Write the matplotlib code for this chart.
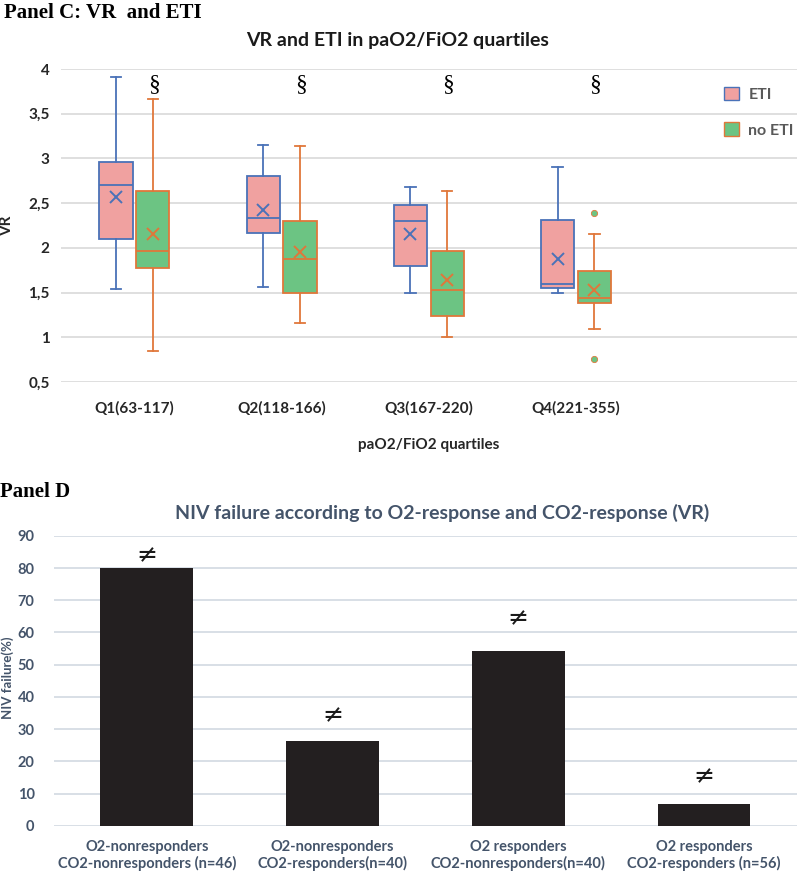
import matplotlib.pyplot as plt
from matplotlib.patches import Patch
from matplotlib.ticker import FuncFormatter

plt.rcParams['font.family'] = ['Lato', 'DejaVu Sans']

# Panel C: box plot values
quartiles = ['Q1(63-117)', 'Q2(118-166)', 'Q3(167-220)', 'Q4(221-355)']
eti_whislo = [1.54, 1.56, 1.49, 1.50]
eti_q1 = [2.10, 2.17, 1.80, 1.55]
eti_med = [2.70, 2.33, 2.30, 1.60]
eti_q3 = [2.96, 2.80, 2.48, 2.31]
eti_whishi = [3.91, 3.15, 2.68, 2.90]
eti_mean = [2.57, 2.42, 2.15, 1.87]
eti_fliers = [[], [], [], []]

noeti_whislo = [0.85, 1.16, 1.00, 1.09]
noeti_q1 = [1.78, 1.50, 1.24, 1.38]
noeti_med = [1.97, 1.88, 1.53, 1.44]
noeti_q3 = [2.64, 2.30, 1.97, 1.74]
noeti_whishi = [3.67, 3.14, 2.64, 2.15]
noeti_mean = [2.16, 1.95, 1.64, 1.53]
noeti_fliers = [[], [], [], [2.39, 0.76]]

# Panel D: bar values
groups = ['O2-nonresponders\nCO2-nonresponders (n=46)',
          'O2-nonresponders\nCO2-responders(n=40)',
          'O2 responders\nCO2-nonresponders(n=40)',
          'O2 responders\nCO2-responders (n=56)']
niv_failure = [80.0, 26.4, 54.4, 6.7]

fig = plt.figure(figsize=(8, 8.74), dpi=100)

# ---------- Panel C ----------
ax1 = fig.add_axes([0.076, 0.563, 0.92, 0.358])


def make_stats(lo, q1, med, q3, hi, mean, fl):
    return [dict(whislo=lo[i], q1=q1[i], med=med[i], q3=q3[i], whishi=hi[i],
                 mean=mean[i], fliers=fl[i]) for i in range(len(lo))]


def draw_boxes(stats, pos, face, edge):
    ax1.bxp(stats, positions=pos, widths=0.225, patch_artist=True, showmeans=True,
            boxprops=dict(facecolor=face, edgecolor=edge, linewidth=1.3),
            medianprops=dict(color=edge, linewidth=1.3),
            whiskerprops=dict(color=edge, linewidth=1.3),
            capprops=dict(color=edge, linewidth=1.3),
            capwidths=0.07,
            meanprops=dict(marker='x', markeredgecolor=edge, markersize=9, markeredgewidth=1.4),
            flierprops=dict(marker='o', markerfacecolor=face, markeredgecolor=edge,
                            markersize=4.5, markeredgewidth=0.6),
            manage_ticks=False)


eti_color, eti_edge = '#f0a1a0', '#4a72b8'
noeti_color, noeti_edge = '#6cc483', '#e0773a'
pos = list(range(len(quartiles)))
draw_boxes(make_stats(eti_whislo, eti_q1, eti_med, eti_q3, eti_whishi, eti_mean, eti_fliers),
           [p - 0.125 for p in pos], eti_color, eti_edge)
draw_boxes(make_stats(noeti_whislo, noeti_q1, noeti_med, noeti_q3, noeti_whishi, noeti_mean, noeti_fliers),
           [p + 0.125 for p in pos], noeti_color, noeti_edge)

for p in pos:
    ax1.text(p + 0.13, 3.83, '§', ha='center', va='center', fontsize=17,
             family='Liberation Serif')

ax1.set_xlim(-0.5, 4.5)
ax1.set_ylim(0.5, 4)
ax1.set_yticks([0.5, 1, 1.5, 2, 2.5, 3, 3.5, 4])
ax1.yaxis.set_major_formatter(FuncFormatter(lambda v, _: ('%g' % v).replace('.', ',')))
ax1.set_xticks(pos)
ax1.set_xticklabels(quartiles)
ax1.grid(axis='y', color='#d9d9d9', linewidth=1.2)
ax1.set_axisbelow(True)
for s in ax1.spines.values():
    s.set_visible(False)
ax1.tick_params(length=0, labelsize=11, labelcolor='#262626', pad=14)
for lbl in ax1.get_xticklabels() + ax1.get_yticklabels():
    lbl.set_fontweight('bold')
ax1.tick_params(axis='y', pad=8)
ax1.set_ylabel('VR', fontsize=11, fontweight='bold', color='#262626')
ax1.yaxis.set_label_coords(-0.064, 0.5)
ax1.set_xlabel('paO2/FiO2 quartiles', fontsize=11, fontweight='bold', color='#262626', labelpad=16)

handles = [Patch(facecolor=eti_color, edgecolor=eti_edge, label='ETI'),
           Patch(facecolor=noeti_color, edgecolor=noeti_edge, label='no ETI')]
leg = ax1.legend(handles=handles, loc='upper left', bbox_to_anchor=(0.882, 0.99), frameon=False,
                 handlelength=0.9, handleheight=0.9, labelspacing=1.3, handletextpad=0.6,
                 prop=dict(size=11.5, weight='bold'))
for t in leg.get_texts():
    t.set_color('#595959')

fig.text(0.005, 0.985, 'Panel C: VR  and ETI', family='Liberation Serif', fontweight='bold',
         fontsize=15, va='center', ha='left')
fig.text(0.497, 0.954, 'VR and ETI in paO2/FiO2 quartiles', fontweight='bold', fontsize=14,
         va='center', ha='center', color='#1a1a1a')

# ---------- Panel D ----------
ax2 = fig.add_axes([0.0675, 0.055, 0.9285, 0.332])
slate = '#44546a'
xb = list(range(len(groups)))
ax2.bar(xb, niv_failure, width=0.5, color='#231f20', zorder=3)
ne_offsets = [4, 8, 10, 8.6]
for i, v in enumerate(niv_failure):
    ax2.text(xb[i], v + ne_offsets[i], '≠', ha='center', va='center', fontsize=18,
             family='DejaVu Sans', color='#1a1a1a')
ax2.set_xlim(-0.5, 3.5)
ax2.set_ylim(0, 90)
ax2.set_yticks(range(0, 91, 10))
ax2.set_xticks(xb)
ax2.set_xticklabels(groups)
ax2.grid(axis='y', color='#d6dce4', linewidth=1.3)
ax2.set_axisbelow(True)
for s in ax2.spines.values():
    s.set_visible(False)
ax2.tick_params(length=0, labelsize=10.5, labelcolor=slate)
ax2.tick_params(axis='x', pad=10)
ax2.tick_params(axis='y', pad=14)
for lbl in ax2.get_xticklabels() + ax2.get_yticklabels():
    lbl.set_fontweight('bold')
ax2.set_ylabel('NIV failure(%)', fontsize=9.5, fontweight='bold', color=slate)
ax2.yaxis.set_label_coords(-0.054, 0.51)

fig.text(0.0, 0.437, 'Panel D', family='Liberation Serif', fontweight='bold',
         fontsize=15, va='center', ha='left')
fig.text(0.553, 0.413, 'NIV failure according to O2-response and CO2-response (VR)',
         fontweight='bold', fontsize=14, va='center', ha='center', color=slate)

fig.savefig('out.png', dpi=100)
